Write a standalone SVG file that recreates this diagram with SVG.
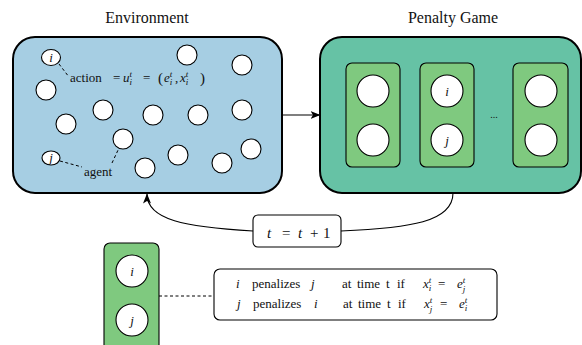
<svg xmlns="http://www.w3.org/2000/svg" width="582" height="345" viewBox="0 0 582 345">
<defs>
<marker id="arr" viewBox="0 0 10 8" refX="9.5" refY="4" markerWidth="10" markerHeight="8" markerUnits="userSpaceOnUse" orient="auto">
<path d="M0,0 L10,4 L0,8 L2.5,4 Z" fill="#000"/>
</marker>
</defs>

<g font-family="Liberation Serif" font-size="16" fill="#111" text-anchor="middle">
<text x="147" y="23">Environment</text>
<text x="453" y="23">Penalty Game</text>
</g>

<g id="environment">
<rect x="13" y="37" width="269" height="156" rx="22" fill="#a6cee3" stroke="#000" stroke-width="2"/>
<g fill="#fff" stroke="#000" stroke-width="1.1">
<ellipse cx="51" cy="57.5" rx="9.5" ry="8"/>
<ellipse cx="51" cy="158" rx="9" ry="7"/>
<circle cx="187" cy="55" r="10"/>
<circle cx="242" cy="65" r="10"/>
<circle cx="46" cy="90" r="10"/>
<circle cx="103" cy="110" r="10"/>
<circle cx="153" cy="115" r="10"/>
<circle cx="198" cy="115" r="10"/>
<circle cx="242" cy="110" r="10"/>
<circle cx="66" cy="124" r="10"/>
<circle cx="123" cy="139" r="10"/>
<circle cx="178" cy="155" r="10"/>
<circle cx="145" cy="168" r="10"/>
<circle cx="222" cy="163" r="10"/>
<circle cx="251" cy="149" r="10"/>
</g>
<g fill="none" stroke="#000" stroke-width="1" stroke-dasharray="3,2.5">
<path d="M59,64 L69,77"/>
<path d="M60,161 L82,167"/>
<path d="M112,163 L119,148"/>
</g>
<g font-family="Liberation Serif" font-size="13" fill="#111">
<text x="51" y="62" text-anchor="middle" font-style="italic">i</text>
<text x="51" y="162" text-anchor="middle" font-style="italic">j</text>
<text x="70" y="82">action<tspan x="113">=</tspan><tspan x="123" font-style="italic">u</tspan><tspan font-size="9" font-style="italic" dy="-5">t</tspan><tspan font-size="9" font-style="italic" dx="-2.5" dy="8">i</tspan><tspan x="143" dy="-3">=</tspan><tspan x="158" dy="1" font-size="15">(</tspan><tspan x="164" dy="-1" font-style="italic">e</tspan><tspan font-size="9" font-style="italic" dy="-5">t</tspan><tspan font-size="9" font-style="italic" dx="-2.5" dy="8">i</tspan><tspan x="175" dy="-3">,</tspan><tspan x="180" font-style="italic">x</tspan><tspan font-size="9" font-style="italic" dy="-5">t</tspan><tspan font-size="9" font-style="italic" dx="-2.5" dy="8">i</tspan><tspan x="200" dy="-2" font-size="15">)</tspan></text>
<text x="98" y="176" text-anchor="middle">agent</text>
</g>
</g>

<g id="penalty-game">
<rect x="320" y="37" width="261" height="156" rx="22" fill="#66c2a5" stroke="#000" stroke-width="2"/>
<g fill="#7fc97f" stroke="#000" stroke-width="1.1">
<rect x="346" y="63" width="54" height="104" rx="6"/>
<rect x="420" y="63" width="54" height="104" rx="6"/>
<rect x="513" y="63" width="55" height="104" rx="6"/>
</g>
<g fill="#fff" stroke="#000" stroke-width="1.1">
<circle cx="373" cy="91" r="16"/>
<circle cx="373" cy="140" r="16"/>
<circle cx="447" cy="91" r="16"/>
<circle cx="447" cy="140" r="16"/>
<circle cx="541" cy="91" r="16"/>
<circle cx="541" cy="140" r="16"/>
</g>
<g font-family="Liberation Serif" font-size="13" fill="#111" text-anchor="middle">
<text x="447" y="96" font-style="italic">i</text>
<text x="447" y="145" font-style="italic">j</text>
<text x="494" y="118" font-size="10">...</text>
</g>
</g>

<g id="time-step">
<rect x="253" y="215" width="88" height="32" rx="5" fill="#fff" stroke="#000" stroke-width="1.1"/>
<text font-family="Liberation Serif" font-size="15" fill="#111" x="267" y="238"><tspan font-style="italic">t</tspan><tspan x="282">=</tspan><tspan x="298" font-style="italic">t</tspan><tspan x="310">+</tspan><tspan x="323">1</tspan></text>
</g>

<g id="pair">
<rect x="104" y="243" width="55" height="112" rx="6" fill="#7fc97f" stroke="#000" stroke-width="1.1"/>
<g fill="#fff" stroke="#000" stroke-width="1.1">
<circle cx="132" cy="271" r="16"/>
<circle cx="132" cy="320" r="16"/>
</g>
<g font-family="Liberation Serif" font-size="13" fill="#111" text-anchor="middle" font-style="italic">
<text x="132" y="276">i</text>
<text x="132" y="325">j</text>
</g>
</g>

<g id="rule">
<rect x="214" y="269" width="283" height="51" rx="6" fill="#fff" stroke="#000" stroke-width="1.1"/>
<g font-family="Liberation Serif" font-size="13" fill="#111">
<text x="236" y="288"><tspan font-style="italic">i</tspan><tspan x="252">penalizes</tspan><tspan x="311" font-style="italic">j</tspan><tspan x="342">at</tspan><tspan x="357">time</tspan><tspan x="386">t</tspan><tspan x="397">if</tspan><tspan x="423" font-style="italic">x</tspan><tspan font-size="9" font-style="italic" dy="-5">t</tspan><tspan font-size="9" font-style="italic" dx="-2.5" dy="8">i</tspan><tspan x="438" dy="-3">=</tspan><tspan x="457" font-style="italic">e</tspan><tspan font-size="9" font-style="italic" dy="-5">t</tspan><tspan font-size="9" font-style="italic" dx="-2.5" dy="9">j</tspan></text>
<text x="237" y="308"><tspan font-style="italic">j</tspan><tspan x="253">penalizes</tspan><tspan x="314" font-style="italic">i</tspan><tspan x="343">at</tspan><tspan x="358">time</tspan><tspan x="387">t</tspan><tspan x="398">if</tspan><tspan x="424" font-style="italic">x</tspan><tspan font-size="9" font-style="italic" dy="-5">t</tspan><tspan font-size="9" font-style="italic" dx="-2.5" dy="9">j</tspan><tspan x="440" dy="-4">=</tspan><tspan x="459" font-style="italic">e</tspan><tspan font-size="9" font-style="italic" dy="-5">t</tspan><tspan font-size="9" font-style="italic" dx="-2.5" dy="8">i</tspan></text>
</g>
</g>

<g id="connectors" fill="none" stroke="#000" stroke-width="1.1">
<path d="M282,115 L320,115" marker-end="url(#arr)"/>
<path d="M453,193 C453,222 410,228 341,231"/>
<path d="M253,231 C185,227 147,220 147,194" marker-end="url(#arr)"/>
<path d="M159,296 L214,296" stroke-width="1" stroke-dasharray="3,2.5"/>
</g>
</svg>
